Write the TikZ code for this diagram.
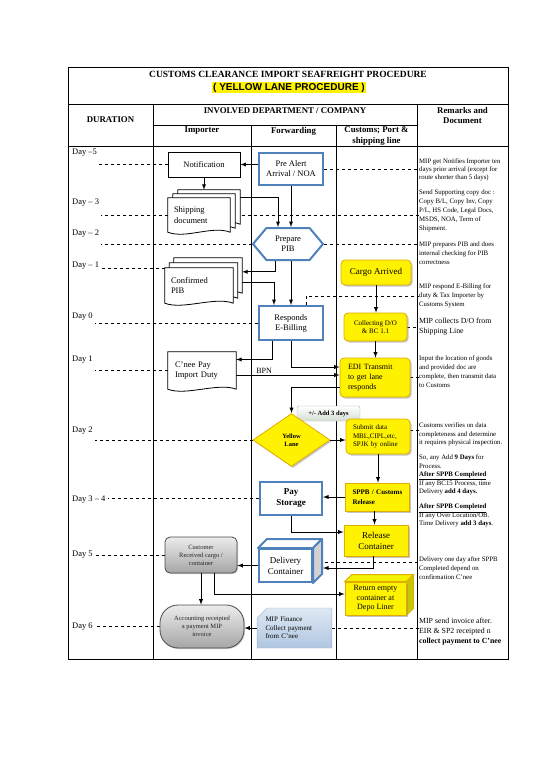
\documentclass[tikz,border=0pt]{standalone}
\usepackage{fontspec}
\setmainfont{Liberation Serif}
\newfontfamily\lanefont{Liberation Sans}
\usetikzlibrary{shapes.geometric,shapes.symbols,shapes.misc,shadows,backgrounds}
\definecolor{boxblue}{HTML}{4F81BD}
\definecolor{ybord}{HTML}{E0AC00}
\definecolor{finblue}{HTML}{95B3D7}
\definecolor{ytop}{HTML}{F2F200}
\definecolor{yside}{HTML}{C8C800}
\newcommand\docshape[3]{\draw[docline] ([xshift=#2,yshift=#3]#1.north west) -- ([xshift=#2,yshift=#3]#1.north east) -- ([xshift=#2,yshift=#3]#1.south east) .. controls ([xshift=#2-18pt,yshift=#3+7pt]#1.south east) and ([xshift=#2+18pt,yshift=#3-7pt]#1.south west) .. ([xshift=#2,yshift=#3]#1.south west) -- cycle;}
\newcommand\cubefaces[4]{%
  \draw[#3] (#1.north west) -- ([xshift=#2,yshift=#2]#1.north west) -- ([xshift=#2,yshift=#2]#1.north east) -- (#1.north east) -- cycle;
  \draw[#4] (#1.north east) -- ([xshift=#2,yshift=#2]#1.north east) -- ([xshift=#2,yshift=#2]#1.south east) -- (#1.south east) -- cycle;}
\begin{document}
\begin{tikzpicture}[x=1pt, y=-1pt, >=latex,
  tabline/.style={line width=0.6pt},
  guideline/.style={dashed, line width=0.6pt},
  flow/.style={->, line width=0.9pt},
  plainbox/.style={draw, line width=0.9pt, fill=white, align=center, font=\fontsize{8.5}{10}\selectfont},
  bluebox/.style={draw=boxblue, line width=2pt, fill=white, align=center, font=\fontsize{8.5}{10}\selectfont},
  ybox/.style={draw=ybord, line width=0.8pt, fill=yellow, drop shadow={shadow xshift=1.5pt, shadow yshift=-1.5pt, fill=black!45}, align=center, font=\fontsize{9}{11}\selectfont},
  yrbox/.style={ybox, rounded corners=4pt},
  grayrbox/.style={draw=gray!60!black, line width=0.8pt, top color=gray!15, bottom color=gray!70, rounded corners=5pt, align=center, text=black!85, font=\fontsize{6.5}{8}\selectfont, drop shadow={shadow xshift=1pt, shadow yshift=-1pt, fill=black!40}},
  docnode/.style={align=left, inner ysep=0pt, font=\fontsize{8.5}{10.5}\selectfont},
  docline/.style={draw, fill=white, line width=0.8pt},
  daylbl/.style={anchor=west, inner sep=2pt, font=\fontsize{8.5}{10}\selectfont},
  remark/.style={anchor=west, align=left, inner sep=0pt, font=\fontsize{6.8}{8.2}\selectfont},
  hdr/.style={align=center, font=\bfseries\fontsize{8.8}{10.5}\selectfont}]
\useasboundingbox (0,0) rectangle (550,777);

\node[font=\bfseries\fontsize{9.5}{11}\selectfont] (ttl) at (288,74) {CUSTOMS CLEARANCE IMPORT SEAFREIGHT PROCEDURE};
\node[fill=yellow, inner sep=1pt, font=\lanefont\bfseries\fontsize{10}{12}\selectfont] (ttllane) at (289,87.5) {( YELLOW LANE PROCEDURE )};
\node[hdr] (hdur) at (110.5,120) {DURATION};
\node[hdr] (hinv) at (285,110.5) {INVOLVED DEPARTMENT / COMPANY};
\node[hdr] (hrem) at (462.5,115.5) {Remarks and\\Document};
\node[hdr] (himp) at (202,131) {Importer};
\node[hdr] (hfwd) at (293.5,131) {Forwarding};
\node[hdr] (hcus) at (376.5,136) {Customs; Port \&\\shipping line};

\node[daylbl] (dayM5) at (70,153) {Day –5};
\node[daylbl] (dayM3) at (70,203) {Day – 3};
\node[daylbl] (dayM2) at (70,234) {Day – 2};
\node[daylbl] (dayM1) at (70,266) {Day – 1};
\node[daylbl] (day0) at (70,317) {Day 0};
\node[daylbl] (day1) at (70,360) {Day 1};
\node[daylbl] (day2) at (70,431) {Day 2};
\node[daylbl] (day34) at (70,500) {Day 3 – 4};
\node[daylbl] (day5) at (70,555) {Day 5};
\node[daylbl] (day6) at (70,627) {Day 6};

\node[plainbox, minimum width=72pt, minimum height=25pt] (notif) at (204,164.5) {Notification};
\node[bluebox, minimum width=64pt, minimum height=32pt] (prealert) at (291,169) {Pre Alert\\Arrival / NOA};
\node[docnode, text width=50pt, inner xsep=6pt, minimum height=34pt] (shipdoc) at (199,215) {Shipping\\document};
\node[bluebox, signal, signal to=west and east, signal pointer angle=100, minimum width=70pt, minimum height=32pt] (pib) at (288,244) {Prepare\\PIB};
\node[docnode, text width=56pt, inner xsep=6pt, minimum height=35pt] (cpib) at (199,285.5) {Confirmed\\PIB};
\node[yrbox, minimum width=70pt, minimum height=25pt] (cargo) at (376,272.5) {Cargo Arrived};
\node[bluebox, minimum width=64pt, minimum height=34pt] (respond) at (291,323) {Responds\\E-Billing};
\node[yrbox, minimum width=63pt, minimum height=28pt, font=\fontsize{7}{8.5}\selectfont] (collect) at (375.5,327) {Collecting D/O\\\& BC 1.1};
\node[docnode, text width=54pt, inner xsep=7pt, minimum height=37pt] (cneepay) at (202,370.5) {C'nee Pay\\Import Duty};
\node[yrbox, text width=54pt, inner xsep=8pt, minimum height=39pt, align=left, font=\fontsize{8}{10}\selectfont] (edi) at (375,377.5) {EDI Transmit\\to get lane\\responds};
\node[draw=gray!60, top color=white, bottom color=green!15!gray!30, rounded corners=1.5pt, minimum width=63pt, minimum height=15pt, inner sep=0pt, font=\bfseries\fontsize{6.5}{8}\selectfont] (addthree) at (328.5,413.5) {+/- Add 3 days};
\node[diamond, aspect=1.45, draw=ybord, line width=0.8pt, fill=yellow, drop shadow={shadow xshift=1.5pt, shadow yshift=-1.5pt, fill=black!45}, minimum width=77pt, minimum height=53pt, inner sep=0pt, align=center, font=\bfseries\fontsize{6.5}{8}\selectfont] (lane) at (291.5,440) {Yellow\\Lane};
\node[yrbox, text width=50pt, inner xsep=7pt, minimum height=35pt, align=left, font=\fontsize{7}{8.5}\selectfont] (submit) at (378,436.5) {Submit data\\MBL,CIPL,etc,\\SPJK by online};
\node[ybox, text width=50pt, inner xsep=7pt, minimum height=28pt, align=left, font=\bfseries\fontsize{7}{10}\selectfont] (sppb) at (377.5,497) {SPPB / Customs\\Release};
\node[bluebox, minimum width=62pt, minimum height=33pt, font=\bfseries\fontsize{9}{11}\selectfont] (paystor) at (291,498.5) {Pay\\Storage};
\node[ybox, minimum width=64pt, minimum height=31pt] (release) at (376,540.5) {Release\\Container};
\node[bluebox, minimum width=53pt, minimum height=33pt, font=\fontsize{9}{11}\selectfont] (delivery) at (285.5,565.5) {Delivery\\Container};
\node[grayrbox, minimum width=72pt, minimum height=36pt] (customer) at (201,555) {Customer\\Received cargo /\\container};
\node[ybox, minimum width=61pt, minimum height=33pt, font=\fontsize{8}{9.5}\selectfont] (retempty) at (375.5,598.5) {Return empty\\container at\\Depo Liner};
\node[grayrbox, rounded corners=18pt, minimum width=84pt, minimum height=43pt] (accounting) at (202,626.5) {Accounting receipted\\a payment MIP\\invoice};
\node[chamfered rectangle, chamfered rectangle corners=north west, chamfered rectangle xsep=5pt, chamfered rectangle ysep=5pt, draw=finblue, top color=finblue!30, bottom color=finblue!75, text width=58pt, align=left, minimum width=71pt, minimum height=40pt, font=\fontsize{7}{8.5}\selectfont] (finance) at (294.5,628) {MIP Finance\\Collect payment\\from C'nee};

\node[remark] (rmA) at (419,170) {MIP get Notifies Importer ten\\days prior arrival (except for\\route shorter than 5 days)};
\node[remark, font=\fontsize{6.8}{9}\selectfont] (rmB) at (419,211) {Send Supporting copy doc :\\Copy B/L, Copy Inv, Copy\\P/L, HS Code, Legal Docs,\\MSDS, NOA, Term of\\Shipment.};
\node[remark, font=\fontsize{6.8}{9}\selectfont] (rmC) at (419,253) {MIP prepares PIB and does\\internal checking for PIB\\correctness};
\node[remark, font=\fontsize{6.8}{9}\selectfont] (rmD) at (419,296) {MIP respond E-Billing for\\duty \& Tax Importer by\\Customs System};
\node[remark, font=\fontsize{7.8}{10}\selectfont] (rmE) at (419,327) {MIP collects D/O from\\Shipping Line};
\node[remark, font=\fontsize{6.8}{9}\selectfont] (rmF) at (419,371.5) {Input the location of goods\\and provided doc are\\complete, then transmit data\\to Customs};
\node[remark, font=\fontsize{6.8}{8.4}\selectfont] (rmG) at (419,475) {Customs verifies on data\\completeness and determine\\it requires physical inspection.\\[7pt]So, any Add \textbf{9 Days} for\\Process.\\\underline{\textbf{After SPPB Completed}}\\If any BC15 Process, time\\Delivery \textbf{add 4 days.}\\[7pt]\underline{\textbf{After SPPB Completed}}\\If any Over Location/OB.\\Time Delivery \textbf{add 3 days}.};
\node[remark, font=\fontsize{6.8}{9}\selectfont] (rmH) at (419,568) {Delivery one day after SPPB\\Completed depend on\\confirmation C'nee};
\node[remark, font=\fontsize{7.8}{10}\selectfont] (rmI) at (419,632) {MIP send invoice after.\\EIR \& SP2 receipted n\\\textbf{collect payment to C'nee}};

\draw[flow] (prealert.west |- notif.east) -- (notif.east);
\draw[flow] (notif.south) -- ([yshift=8pt]notif.south |- shipdoc.north);
\draw[flow] ([xshift=10pt]shipdoc.north east) -| ([xshift=-10pt]pib.north);
\draw[flow] (prealert.south) -- (prealert.south |- pib.north);
\draw[flow] ([xshift=-13pt]pib.south) |- ([xshift=9pt,yshift=-4pt]cpib.north east);
\draw[flow] ([xshift=9pt,yshift=-15pt]cpib.north east) -| ([xshift=-17pt]respond.north);
\draw[flow] (pib.south -| respond.north) -- (respond.north);
\draw[flow] (cargo.south) -- (cargo.south |- collect.north);
\draw[flow] (collect.south) -- (collect.south |- edi.north);
\draw[flow] ([xshift=-19pt]respond.south) |- ([yshift=11pt]cneepay.east);
\draw[flow] (respond.south) |- ([yshift=10.5pt]edi.west);
\draw[flow] ([yshift=-4.5pt]cneepay.east) -- ([yshift=-4.5pt]cneepay.east -| edi.west) node[above, pos=0.27, inner sep=1pt, font=\fontsize{8}{9}\selectfont] {BPN};
\draw[flow] ([yshift=-9.5pt]edi.west) -| (lane.north);
\draw[flow] (lane.east) -- (lane.east -| submit.west);
\draw[flow] (submit.south) -- (submit.south |- sppb.north);
\draw[flow] (sppb.west) -- (sppb.west -| paystor.east);
\draw[flow] ([xshift=-3pt]sppb.south) -- ([xshift=-3pt]sppb.south |- release.north);
\draw[flow] (paystor.south) |- ([yshift=8.5pt]release.west);
\draw[flow] ([xshift=-3pt]release.south) |- ([xshift=10pt,yshift=-2.5pt]delivery.east);
\draw[flow] (delivery.west) -- (delivery.west -| customer.east);
\draw[flow] (customer.south) -- (customer.south |- accounting.north);
\draw[flow] ([xshift=13pt]customer.south) |- ([yshift=4.5pt]retempty.west);
\draw[flow] (finance.west) -- (finance.west -| accounting.east);

\begin{scope}[on background layer]
\draw[tabline] (68,67) rectangle (508,659);
\draw[tabline] (68,104) -- (508,104) (68,146) -- (508,146) (153,125) -- (417,125)
  (153,104) -- (153,659) (417,104) -- (417,659) (251,125) -- (251,659) (336,125) -- (336,659);
\draw[guideline] (notif.west) -- (notif.west -| dayM5.east);
\draw[guideline] (prealert.east) -- (prealert.east -| rmA.west);
\draw[guideline] (shipdoc.west) -- (shipdoc.west -| dayM3.east);
\draw[guideline] (shipdoc.east) -- (shipdoc.east -| rmB.west);
\draw[guideline] (pib.west) -- (pib.west -| dayM2.east);
\draw[guideline] (pib.east) -- (pib.east -| rmC.west);
\draw[guideline] (cpib.north west) -- (cpib.north west -| dayM1.east);
\draw[guideline] ([xshift=-18pt]respond.north east) |- (rmD.west);
\draw[guideline] (respond.west) -- (respond.west -| day0.east);
\draw[guideline] (collect.east) -- (collect.east -| rmE.west);
\draw[guideline] (cneepay.west) -- (cneepay.west -| day1.east);
\draw[guideline] (edi.east) -- (edi.east -| rmF.west);
\draw[guideline] (lane.west) -- (lane.west -| day2.east);
\draw[guideline] ([yshift=6pt]submit.east) -- ([yshift=6pt]submit.east -| rmG.west);
\draw[guideline] (paystor.west) -- (paystor.west -| day34.east);
\draw[guideline] (customer.west) -- (customer.west -| day5.east);
\draw[guideline] ([yshift=3.5pt]delivery.east) -- ([yshift=3.5pt]delivery.east -| rmH.west);
\draw[guideline] (accounting.west) -- (accounting.west -| day6.east);
\draw[guideline] (finance.east) -- (finance.east -| rmI.west);
\docshape{shipdoc}{10pt}{8pt}
\docshape{shipdoc}{5pt}{4pt}
\docshape{shipdoc}{0pt}{0pt}
\docshape{cpib}{9pt}{10pt}
\docshape{cpib}{4.5pt}{5pt}
\docshape{cpib}{0pt}{0pt}
\docshape{cneepay}{0pt}{0pt}
\cubefaces{delivery}{9pt}{draw=boxblue,line width=2pt,fill=white,line join=round}{draw=boxblue,line width=2pt,fill=gray!35,line join=round}
\cubefaces{retempty}{7pt}{draw=ybord,line width=0.8pt,fill=ytop}{draw=ybord,line width=0.8pt,fill=yside}
\end{scope}
\end{tikzpicture}
\end{document}
